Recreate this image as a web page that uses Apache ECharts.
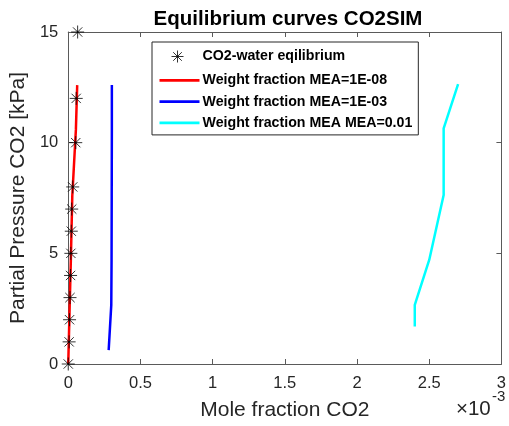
<!DOCTYPE html>
<html>
<head>
<meta charset="utf-8">
<script src="https://cdn.jsdelivr.net/npm/echarts@6/dist/echarts.min.js"></script>
<style>html,body{margin:0;padding:0;background:#fff;}#c{width:509px;height:426px;}</style>
</head>
<body>
<div id="c"></div>
<script>
// x values in units of 1e-3 (mole fraction), y in kPa
const xTicks = [0, 0.5, 1, 1.5, 2, 2.5, 3];
const yTicks = [0, 5, 10, 15];

const starY = [0, 1, 2, 3, 4, 5, 6, 7, 8, 10, 12, 15];
const starX = [0, 0.006, 0.009, 0.012, 0.016, 0.018, 0.021, 0.024, 0.031, 0.052, 0.055, 0.065];

const redY = [0, 2.67, 4.7, 7.6, 10.6, 12.6];
const redX = [0, 0.010, 0.018, 0.028, 0.053, 0.062];

const blueY = [0.63, 2.67, 4.7, 7.6, 10.6, 12.6];
const blueX = [0.280, 0.298, 0.300, 0.301, 0.302, 0.302];

const cyanY = [1.69, 2.67, 4.7, 7.64, 10.65, 12.65];
const cyanX = [2.40, 2.40, 2.50, 2.60, 2.60, 2.70];

const names = ['CO2-water eqilibrium', 'Weight fraction MEA=1E-08', 'Weight fraction MEA=1E-03', 'Weight fraction MEA MEA=0.01'];

const pair = (xs, ys) => xs.map((x, i) => [x, ys[i]]);

const starPath = 'path://M0,-6L0,6M-6,0L6,0M-4.3,-4.3L4.3,4.3M-4.3,4.3L4.3,-4.3';
const starLegendPath = 'path://M-20,-7L-20,-7M20,7L20,7M-2,-6L-2,6M-8,0L4,0M-6.3,-4.3L2.3,4.3M-6.3,4.3L2.3,-4.3';
const lineLegendPath = 'path://M0,-7L0,-7M40,7L40,7M0,-1.4L40,-1.4L40,1.4L0,1.4Z';

const axisGray = '#5a5a5a';
const txt = '#262626';
const font = 'Liberation Sans, Arial, sans-serif';

const chart = echarts.init(document.getElementById('c'), null, {renderer: 'canvas'});
chart.setOption({
  animation: false,
  backgroundColor: '#fff',
  title: {
    text: 'Equilibrium curves CO2SIM',
    left: 283, textAlign: 'center', top: 4,
    textStyle: {fontFamily: font, fontSize: 20.5, fontWeight: 'bold', color: '#000'}
  },
  grid: {left: 66, right: 3, top: 32, bottom: 62, containLabel: false},
  legend: {
    orient: 'vertical', left: 152, top: 42,
    padding: [5, 6, 5, 5],
    backgroundColor: '#fff', borderColor: '#262626', borderWidth: 1,
    itemWidth: 40, itemHeight: 14, itemGap: 7.3,
    textStyle: {fontFamily: font, fontSize: 14.2, fontWeight: 'bold', color: '#000', padding: [0, 0, 0, -2]},
    data: [
      {name: names[0], icon: starLegendPath, itemStyle: {color: 'none', borderColor: '#000', borderWidth: 1}},
      {name: names[1], icon: lineLegendPath, itemStyle: {color: '#ff0000', borderWidth: 0}},
      {name: names[2], icon: lineLegendPath, itemStyle: {color: '#0000ff', borderWidth: 0}},
      {name: names[3], icon: lineLegendPath, itemStyle: {color: '#00ffff', borderWidth: 0}}
    ]
  },
  xAxis: [{
    type: 'value', min: 0, max: 3, interval: 0.5, position: 'bottom',
    name: 'Mole fraction CO2', nameLocation: 'middle', nameGap: 36,
    nameTextStyle: {fontFamily: font, fontSize: 21, color: txt},
    axisLine: {show: true, onZero: false, lineStyle: {color: axisGray, width: 1}},
    axisTick: {show: true, inside: true, length: 5, lineStyle: {color: axisGray}},
    axisLabel: {fontFamily: font, fontSize: 16.5, color: txt, margin: 11,
      formatter: v => xTicks.includes(v) ? String(v) : ''},
    splitLine: {show: false}
  }, {
    type: 'value', min: 0, max: 3, interval: 0.5, position: 'top',
    axisLine: {show: true, onZero: false, lineStyle: {color: axisGray, width: 1}},
    axisTick: {show: true, inside: true, length: 5, lineStyle: {color: axisGray}},
    axisLabel: {show: false}, splitLine: {show: false}
  }],
  yAxis: [{
    type: 'value', min: 0, max: 15, interval: 5, position: 'left',
    name: 'Partial Pressure CO2 [kPa]', nameLocation: 'middle', nameGap: 32, nameRotate: 90,
    nameTextStyle: {fontFamily: font, fontSize: 21, color: txt},
    axisLine: {show: true, onZero: false, lineStyle: {color: axisGray, width: 1}},
    axisTick: {show: true, inside: true, length: 5, lineStyle: {color: axisGray}},
    axisLabel: {fontFamily: font, fontSize: 16.5, color: txt, margin: 10,
      formatter: v => yTicks.includes(v) ? String(v) : ''},
    splitLine: {show: false}
  }, {
    type: 'value', min: 0, max: 15, interval: 5, position: 'right',
    axisLine: {show: true, onZero: false, lineStyle: {color: axisGray, width: 1}},
    axisTick: {show: true, inside: true, length: 5, lineStyle: {color: axisGray}},
    axisLabel: {show: false}, splitLine: {show: false}
  }],
  graphic: [{
    type: 'text', left: 456, top: 399, z: 10,
    style: {text: '×10', fontFamily: font, fontSize: 20.5, fill: txt}
  }, {
    type: 'text', left: 492, top: 389, z: 10,
    style: {text: '-3', fontFamily: font, fontSize: 15, fill: txt}
  }],
  series: [{
    name: names[0], type: 'scatter', data: pair(starX, starY),
    symbol: starPath, symbolSize: 13,
    itemStyle: {color: 'none', borderColor: '#000', borderWidth: 1},
    z: 3
  }, {
    name: names[1], type: 'line', data: pair(redX, redY), showSymbol: false, symbol: 'none',
    lineStyle: {color: '#ff0000', width: 2.5}, itemStyle: {color: '#ff0000'}, z: 2
  }, {
    name: names[2], type: 'line', data: pair(blueX, blueY), showSymbol: false, symbol: 'none',
    lineStyle: {color: '#0000ff', width: 2.5}, itemStyle: {color: '#0000ff'}, z: 2
  }, {
    name: names[3], type: 'line', data: pair(cyanX, cyanY), showSymbol: false, symbol: 'none',
    lineStyle: {color: '#00ffff', width: 2.5}, itemStyle: {color: '#00ffff'}, z: 2
  }]
});
</script>
</body>
</html>
